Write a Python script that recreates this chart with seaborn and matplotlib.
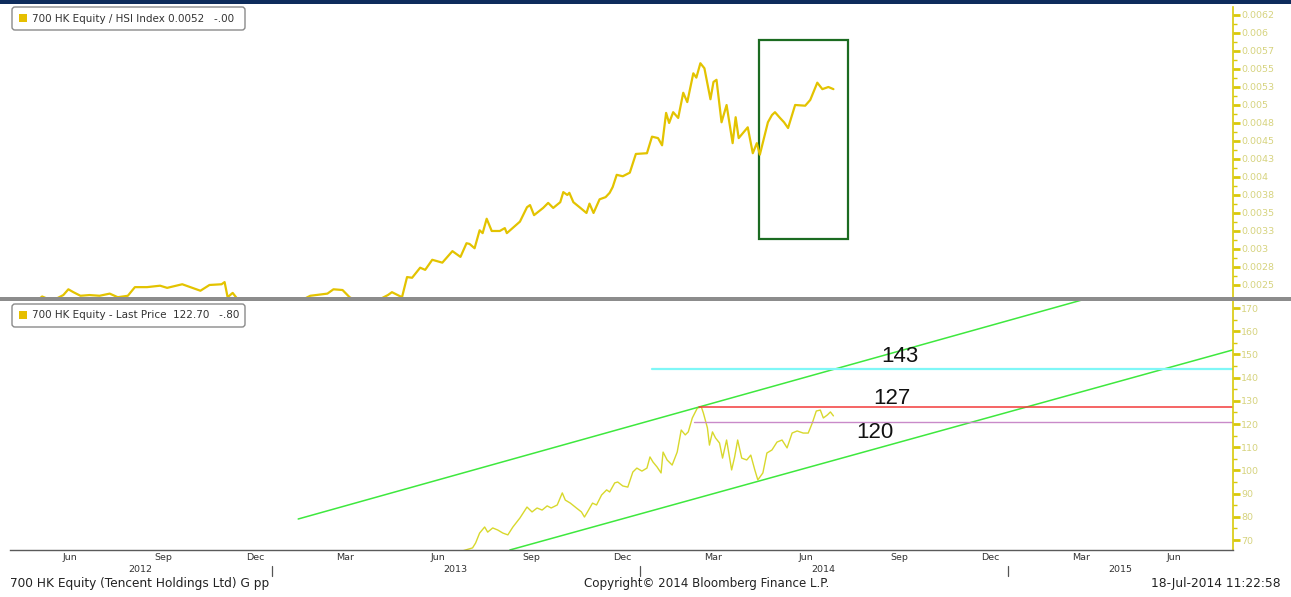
import matplotlib
matplotlib.use("Agg")
import matplotlib.pyplot as plt
import matplotlib.dates as mdates
import matplotlib.transforms as mtrans
from matplotlib.patches import FancyBboxPatch, Rectangle
import seaborn as sns
import pandas as pd
import numpy as np

# ---------------- data ----------------
ratio_dates = [
    "2012-04-16", "2012-05-10", "2012-05-18", "2012-05-28", "2012-06-08", "2012-06-13",
    "2012-06-18", "2012-06-25", "2012-07-04", "2012-07-14", "2012-07-24", "2012-08-01",
    "2012-08-11", "2012-08-18", "2012-08-30", "2012-09-12", "2012-09-19", "2012-10-04",
    "2012-10-12", "2012-10-22", "2012-10-31", "2012-11-12", "2012-11-15", "2012-11-18",
    "2012-11-23", "2012-11-28", "2012-12-10", "2013-01-05", "2013-01-25", "2013-02-08",
    "2013-02-25", "2013-03-03", "2013-03-12", "2013-03-19", "2013-03-28", "2013-04-15",
    "2013-04-26", "2013-04-30", "2013-05-10", "2013-05-15", "2013-05-20", "2013-05-28",
    "2013-06-02", "2013-06-09", "2013-06-19", "2013-06-29", "2013-07-07", "2013-07-13",
    "2013-07-16", "2013-07-21", "2013-07-26", "2013-07-29", "2013-08-02", "2013-08-07",
    "2013-08-15", "2013-08-20", "2013-08-22", "2013-09-04", "2013-09-11", "2013-09-14",
    "2013-09-18", "2013-09-27", "2013-10-02", "2013-10-07", "2013-10-14", "2013-10-17",
    "2013-10-21", "2013-10-23", "2013-10-27", "2013-11-03", "2013-11-09", "2013-11-12",
    "2013-11-16", "2013-11-22", "2013-11-28", "2013-12-02", "2013-12-05", "2013-12-09",
    "2013-12-15", "2013-12-22", "2013-12-28", "2014-01-08", "2014-01-13", "2014-01-19",
    "2014-01-23", "2014-01-27", "2014-01-30", "2014-02-03", "2014-02-08", "2014-02-13",
    "2014-02-17", "2014-02-23", "2014-02-26", "2014-03-02", "2014-03-06", "2014-03-12",
    "2014-03-15", "2014-03-18", "2014-03-23", "2014-03-28", "2014-04-03", "2014-04-06",
    "2014-04-09", "2014-04-18", "2014-04-23", "2014-04-27", "2014-04-30", "2014-05-08",
    "2014-05-12", "2014-05-15", "2014-05-20", "2014-05-24", "2014-05-28", "2014-06-04",
    "2014-06-14", "2014-06-19", "2014-06-26", "2014-07-01", "2014-07-07", "2014-07-12",
]
ratio_values = [
    0.00220, 0.00225, 0.00234, 0.00228, 0.00236, 0.00244,
    0.00240, 0.00235, 0.00236, 0.00235, 0.00238, 0.00233,
    0.00235, 0.00247, 0.00247, 0.00249, 0.00246, 0.00251,
    0.00247, 0.00242, 0.00250, 0.00251, 0.00254, 0.00233,
    0.00239, 0.00230, 0.00222, 0.00218, 0.00225, 0.00235,
    0.00238, 0.00244, 0.00243, 0.00233, 0.00226, 0.00228,
    0.00236, 0.00240, 0.00233, 0.00261, 0.00260, 0.00274,
    0.00271, 0.00285, 0.00281, 0.00297, 0.00289, 0.00308,
    0.00307, 0.00301, 0.00326, 0.00322, 0.00342, 0.00325,
    0.00325, 0.00329, 0.00322, 0.00338, 0.00358, 0.00361,
    0.00347, 0.00357, 0.00364, 0.00357, 0.00365, 0.00379,
    0.00375, 0.00378, 0.00365, 0.00357, 0.00350, 0.00363,
    0.00350, 0.00369, 0.00372, 0.00378, 0.00386, 0.00403,
    0.00401, 0.00406, 0.00432, 0.00433, 0.00456, 0.00454,
    0.00444, 0.00489, 0.00475, 0.00490, 0.00482, 0.00517,
    0.00504, 0.00544, 0.00538, 0.00558, 0.00551, 0.00508,
    0.00532, 0.00535, 0.00476, 0.00500, 0.00447, 0.00483,
    0.00454, 0.00469, 0.00433, 0.00447, 0.00431, 0.00476,
    0.00486, 0.00490, 0.00482, 0.00476, 0.00468, 0.00500,
    0.00499, 0.00507, 0.00531, 0.00522, 0.00525, 0.00522,
]

price_dates = [
    "2013-07-09", "2013-07-19", "2013-07-22", "2013-07-26", "2013-07-31", "2013-08-03",
    "2013-08-08", "2013-08-13", "2013-08-18", "2013-08-23", "2013-08-28", "2013-09-04",
    "2013-09-11", "2013-09-16", "2013-09-21", "2013-09-26", "2013-10-01", "2013-10-05",
    "2013-10-11", "2013-10-16", "2013-10-19", "2013-10-24", "2013-10-30", "2013-11-04",
    "2013-11-07", "2013-11-10", "2013-11-15", "2013-11-19", "2013-11-24", "2013-11-29",
    "2013-12-02", "2013-12-07", "2013-12-10", "2013-12-15", "2013-12-20", "2013-12-25",
    "2013-12-29", "2014-01-03", "2014-01-08", "2014-01-11", "2014-01-14", "2014-01-18",
    "2014-01-22", "2014-01-24", "2014-01-28", "2014-02-02", "2014-02-07", "2014-02-11",
    "2014-02-15", "2014-02-18", "2014-02-22", "2014-02-27", "2014-03-03", "2014-03-05",
    "2014-03-09", "2014-03-11", "2014-03-14", "2014-03-17", "2014-03-21", "2014-03-24",
    "2014-03-28", "2014-04-02", "2014-04-05", "2014-04-08", "2014-04-12", "2014-04-17",
    "2014-04-21", "2014-04-25", "2014-04-28", "2014-05-03", "2014-05-07", "2014-05-12",
    "2014-05-17", "2014-05-22", "2014-05-27", "2014-06-01", "2014-06-06", "2014-06-12",
    "2014-06-17", "2014-06-21", "2014-06-25", "2014-06-29", "2014-07-02", "2014-07-06",
    "2014-07-09", "2014-07-12",
]
price_values = [
    65.3, 66.6, 68.7, 73.0, 75.6, 73.4,
    75.2, 74.3, 73.0, 72.2, 75.6, 79.5,
    84.2, 82.1, 83.8, 82.9, 84.7, 83.8,
    85.1, 90.3, 87.2, 85.9, 83.8, 82.1,
    79.9, 82.1, 85.9, 85.1, 89.4, 91.6,
    90.7, 94.6, 95.0, 93.3, 92.8, 99.3,
    101.0, 99.7, 101.0, 105.8, 103.6, 101.5,
    98.9, 107.9, 104.5, 102.3, 107.9, 117.4,
    115.3, 116.6, 122.6, 126.9, 127.3, 124.7,
    118.3, 110.9, 116.6, 114.0, 111.8, 105.3,
    113.1, 100.2, 105.8, 113.1, 105.3, 104.5,
    106.6, 100.2, 95.9, 98.9, 107.5, 108.8,
    112.2, 113.1, 109.7, 116.1, 117.0, 116.1,
    116.1, 120.4, 125.6, 126.0, 122.6, 123.9,
    125.2, 123.5,
]

# trend channel (start/end points) and horizontal levels
upper_channel_dates = ["2013-01-27", "2015-08-12"]
upper_channel_values = [79.05, 191.6]
lower_channel_dates = ["2013-08-25", "2015-08-12"]
lower_channel_values = [65.7, 151.9]
level_values = [143.8, 127.3, 120.8]
level_start_dates = ["2014-01-13", "2014-03-01", "2014-02-24"]
level_labels = ["143", "127", "120"]

ratio_ticks = [0.0025 + 0.00025 * i for i in range(16)]
ratio_tick_labels = ["0.0025", "0.0028", "0.003", "0.0033", "0.0035", "0.0038", "0.004",
                     "0.0043", "0.0045", "0.0048", "0.005", "0.0053", "0.0055", "0.0057",
                     "0.006", "0.0062"]
price_ticks = [70, 80, 90, 100, 110, 120, 130, 140, 150, 160, 170]
price_tick_labels = ["70", "80", "90", "100", "110", "120", "130", "140", "150", "160", "170"]

box_dates = ["2014-04-29", "2014-07-26"]
box_values = [0.003139, 0.005903]

# ---------------- figure ----------------
sns.set_style("white")
plt.rcParams["font.family"] = ["DejaVu Sans"]

W, H = 1291, 597
fig = plt.figure(figsize=(W / 100, H / 100), dpi=100)
fig.patch.set_facecolor("white")
PX = mtrans.Affine2D().scale(1 / W, -1 / H).translate(0, 1) + fig.transFigure

ax1 = fig.add_axes([10 / W, 1 - 297 / H, 1223 / W, 290 / H])
ax2 = fig.add_axes([10 / W, 1 - 550 / H, 1223 / W, 250 / H])

base = pd.Timestamp("2013-01-01")
xmin = base - pd.Timedelta(days=259.9)
xmax = base + pd.Timedelta(days=953.4)

TOP_COL = "#e3c300"
BOT_COL = "#d8d82c"
AX_YEL = "#d9c90a"
LBL_YEL = "#d6d37e"

# top panel
sns.lineplot(x=pd.to_datetime(ratio_dates), y=ratio_values, ax=ax1, color=TOP_COL,
             lw=1.6, estimator=None)
bx0 = mdates.date2num(pd.Timestamp(box_dates[0]))
bx1 = mdates.date2num(pd.Timestamp(box_dates[1]))
ax1.add_patch(Rectangle((bx0, box_values[0]), bx1 - bx0, box_values[1] - box_values[0],
                        fill=False, ec="#1b6b21", lw=1.6))
ax1.set_xlim(xmin, xmax)
ax1.set_ylim(0.002333, 0.006361)

# bottom panel
sns.lineplot(x=pd.to_datetime(price_dates), y=price_values, ax=ax2, color=BOT_COL,
             lw=1.0, estimator=None)
for d, v in [(upper_channel_dates, upper_channel_values), (lower_channel_dates, lower_channel_values)]:
    sns.lineplot(x=pd.to_datetime(d), y=v, ax=ax2, color="#3ee83e", lw=1.1, estimator=None)
level_cols = ["#7ff7f7", "#f23a3a", "#c98ac9"]
level_lw = [1.6, 1.1, 1.0]
for v, s, c, lw in zip(level_values, level_start_dates, level_cols, level_lw):
    sns.lineplot(x=pd.to_datetime([s, "2015-08-12"]), y=[v, v], ax=ax2, color=c, lw=lw,
                 estimator=None)
ax2.set_xlim(xmin, xmax)
ax2.set_ylim(65.69, 173.45)

label_pos = [(900, 357), (892, 398), (875, 432)]
for (px, py), t in zip(label_pos, level_labels):
    fig.text(px, py, t, transform=PX, ha="center", va="center", fontsize=16,
             family=["Liberation Sans"], color="#111111")

for ax in (ax1, ax2):
    ax.set_xlabel("")
    ax.set_ylabel("")
    ax.set_facecolor("white")
    for s in ("top", "left", "bottom"):
        ax.spines[s].set_visible(False)
    ax.spines["right"].set_visible(True)
    ax.spines["right"].set_color(AX_YEL)
    ax.spines["right"].set_linewidth(1.2)
    ax.yaxis.tick_right()
    ax.tick_params(axis="y", which="major", direction="out", length=5, width=2,
                   color=AX_YEL, labelcolor=LBL_YEL, labelsize=6.8, pad=1)
    ax.tick_params(axis="y", which="minor", direction="out", length=3, width=1,
                   color=AX_YEL)

ax1.set_yticks(ratio_ticks)
ax1.set_yticklabels(ratio_tick_labels)
ax1.set_yticks([t + 0.000125 for t in ratio_ticks[:-1]], minor=True)
ax1.set_xticks([])

ax2.set_yticks(price_ticks)
ax2.set_yticklabels(price_tick_labels)
ax2.set_yticks([t + 5 for t in price_ticks[:-1]], minor=True)

# x axis of bottom panel
ax2.spines["bottom"].set_visible(True)
ax2.spines["bottom"].set_color("#5a5a5a")
ax2.spines["bottom"].set_linewidth(1.0)
month_starts = pd.date_range("2012-05-01", "2015-08-01", freq="MS")
ax2.set_xticks(mdates.date2num(month_starts), minor=True)
label_months = [d + pd.Timedelta(days=14) for d in month_starts if d.month in (3, 6, 9, 12)]
ax2.set_xticks(mdates.date2num(label_months))
ax2.set_xticklabels([d.strftime("%b") for d in label_months])
ax2.tick_params(axis="x", which="major", length=0, labelsize=6.8, labelcolor="#333333", pad=2)
ax2.tick_params(axis="x", which="minor", direction="inout", length=5, width=0.9, color="#444444")

blend = mtrans.blended_transform_factory(ax2.transData, ax2.transAxes)
year_mid = {"2012": ("2012-04-16", "2012-12-31"), "2013": ("2013-01-01", "2013-12-31"),
            "2014": ("2014-01-01", "2014-12-31"), "2015": ("2015-01-01", "2015-08-12")}
for y, (a, b) in year_mid.items():
    m = pd.Timestamp(a) + (pd.Timestamp(b) - pd.Timestamp(a)) / 2
    ax2.text(mdates.date2num(m), -0.08, y, transform=blend, ha="center", va="center",
             fontsize=6.8, color="#333333", clip_on=False)
for y in ["2013-01-01", "2014-01-01", "2015-01-01"]:
    ax2.plot([mdates.date2num(pd.Timestamp(y))] * 2, [-0.064, -0.104], transform=blend,
             color="#555555", lw=0.9, clip_on=False)

# decorations
fig.add_artist(Rectangle((0, 0), W, 4, transform=PX, color="#0e2c5c", lw=0))
fig.add_artist(Rectangle((0, 297), W, 3.5, transform=PX, color="#8c8c8c", lw=0))

for (y0, txt) in [(7, "700 HK Equity / HSI Index 0.0052   -.00"),
                  (304, "700 HK Equity - Last Price  122.70   -.80")]:
    fig.add_artist(FancyBboxPatch((12, y0), 233, 23, transform=PX,
                                  boxstyle="round,pad=0,rounding_size=3",
                                  fc="white", ec="#8a8a8a", lw=1.0))
    fig.add_artist(Rectangle((19, y0 + 7), 8, 8, transform=PX, color="#e6bf00", lw=0))
    fig.text(32, y0 + 11.5, txt, transform=PX, ha="left", va="center", fontsize=7.5,
             color="#333333")

fig.text(10, 584, "700 HK Equity (Tencent Holdings Ltd) G pp", transform=PX, ha="left",
         va="center", fontsize=8.7, color="#222222")
fig.text(707, 584, "Copyright\u00a9 2014 Bloomberg Finance L.P.", transform=PX, ha="center",
         va="center", fontsize=8.6, color="#222222")
fig.text(1281, 584, "18-Jul-2014 11:22:58", transform=PX, ha="right", va="center",
         fontsize=8.8, color="#222222")

fig.savefig("out.png", dpi=100)
